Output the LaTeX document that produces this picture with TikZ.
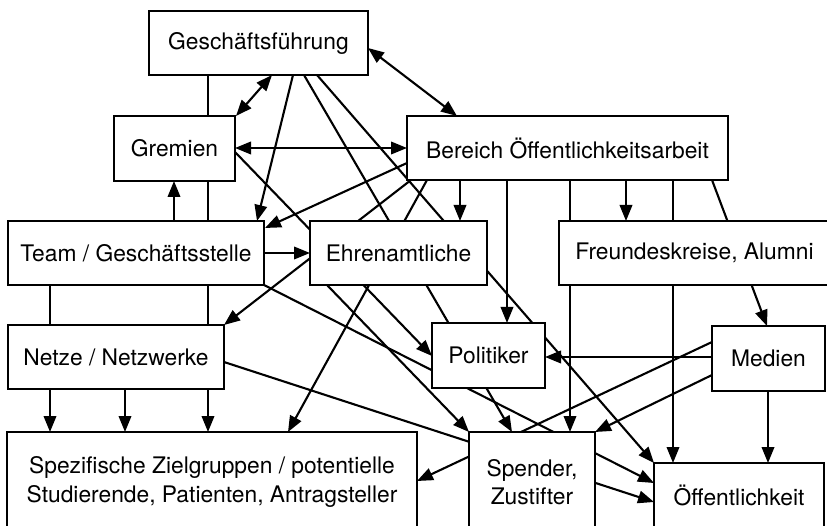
\documentclass[tikz,border=0pt]{standalone}
\usepackage{fontspec}
\setmainfont{TeX Gyre Heros}
\usetikzlibrary{arrows.meta,calc,backgrounds}
\begin{document}
\begin{tikzpicture}[x=1pt,y=-1pt,
 box/.style={draw,line width=2.2pt,fill=white,inner sep=0pt,outer sep=0pt,align=center,font=\fontsize{22.8}{28.5}\selectfont},
 conn/.style={line width=2.1pt},
 arr/.style={conn,-{Triangle[length=16pt,width=12.5pt]}},
 darr/.style={conn,{Triangle[length=16pt,width=12.5pt]}-{Triangle[length=16pt,width=12.5pt]}},
]
\useasboundingbox (0,0) rectangle (827,526);
\clip (0,0) rectangle (827,526);

\node[box,minimum width=219pt,minimum height=64pt] (gf) at (258.5,43) {Geschäftsführung};
\node[box,minimum width=121pt,minimum height=65pt] (grem) at (174.5,148.5) {Gremien};
\node[box,minimum width=321pt,minimum height=64pt] (ber) at (567.5,148) {Bereich Öffentlichkeitsarbeit};
\node[box,minimum width=256pt,minimum height=64pt] (team) at (136,253) {Team / Geschäftsstelle};
\node[box,minimum width=177pt,minimum height=64pt] (ehr) at (398.5,253) {Ehrenamtliche};
\node[box,minimum width=271pt,minimum height=64pt] (fr) at (694.5,253) {Freundeskreise, Alumni};
\node[box,minimum width=216pt,minimum height=64pt] (netze) at (116,357) {Netze / Netzwerke};
\node[box,minimum width=113pt,minimum height=65pt] (pol) at (488.5,355.5) {Politiker};
\node[box,minimum width=113pt,minimum height=65pt] (med) at (768.5,358.5) {Medien};
\node[box,minimum width=410pt,minimum height=100pt] (spez) at (212,482) {Spezifische Zielgruppen / potentielle\\Studierende, Patienten, Antragsteller};
\node[box,minimum width=126pt,minimum height=100pt] (spe) at (532,482) {Spender,\\Zustifter};
\node[box,minimum width=170pt,minimum height=64pt] (oef) at (739,495) {Öffentlichkeit};

\begin{scope}[on background layer]
\draw[darr] ($(gf.north west)+(219,37)$) -- ($(ber.north west)+(50,0)$);
\draw[arr] ($(gf.north west)+(59,64)$) -- ($(spez.north west)+(201,0)$);
\draw[darr] ($(gf.north west)+(123,64)$) -- ($(grem.north west)+(122,0)$);
\draw[arr] ($(team.north west)+(166,0)$) -- ($(grem.north west)+(60,65)$);
\draw[darr] (ber.west -| grem.east) -- (ber.west);
\draw[arr] ($(gf.north west)+(144,64)$) -- ($(team.north west)+(249,0)$);
\draw[arr] ($(gf.north west)+(155,64)$) -- ($(spe.north west)+(43,0)$);
\draw[arr] ($(gf.north west)+(168,64)$) -- (oef.north west);
\draw[arr] ($(ber.north west)+(0,47)$) -- ($(team.north west)+(257,7)$);
\draw[arr] ($(ber.north west)+(4,64)$) -- ($(netze.north west)+(216,0)$);
\draw[arr] ($(ber.north west)+(20,64)$) -- ($(spez.north west)+(281,0)$);
\draw[arr] ($(ber.north west)+(53,64)$) -- ($(ehr.north west)+(150,0)$);
\draw[arr] ($(ber.north west)+(100,64)$) -- ($(pol.north west)+(75,0)$);
\draw[arr] ($(ber.north west)+(163,64)$) -- ($(spe.north west)+(101,0)$);
\draw[arr] ($(ber.north west)+(219,64)$) -- ($(fr.north west)+(67,0)$);
\draw[arr] ($(ber.north west)+(266,64)$) -- ($(oef.north west)+(19,0)$);
\draw[arr] ($(ber.north west)+(305,64)$) -- ($(med.north west)+(55,0)$);
\draw[arr] ($(grem.north west)+(121,36)$) -- ($(pol.north west)+(0,33)$);
\draw[arr] (team.east) -- (ehr.west);
\draw[arr] ($(team.north west)+(256,64)$) -- ($(oef.north west)+(0,20)$);
\draw[arr] ($(netze.north west)+(216,37)$) -- ($(oef.north west)+(0,39)$);
\draw[arr] ($(ehr.north west)+(17,64)$) -- (spe.north west);
\draw[arr] ($(team.north west)+(42,64)$) -- ($(spez.north west)+(43,0)$);
\draw[arr] ($(netze.north west)+(117,64)$) -- ($(spez.north west)+(118,0)$);
\draw[arr] ($(med.north west)+(0,31)$) -- ($(pol.north west)+(113,34)$);
\draw[arr] ($(med.north west)+(0,49)$) -- ($(spe.north west)+(126,0)$);
\draw[arr] ($(med.north west)+(0,16)$) -- ($(spez.north west)+(410,49)$);
\draw[arr] ($(med.north west)+(56,65)$) -- ($(oef.north west)+(114,0)$);
\end{scope}
\end{tikzpicture}
\end{document}
